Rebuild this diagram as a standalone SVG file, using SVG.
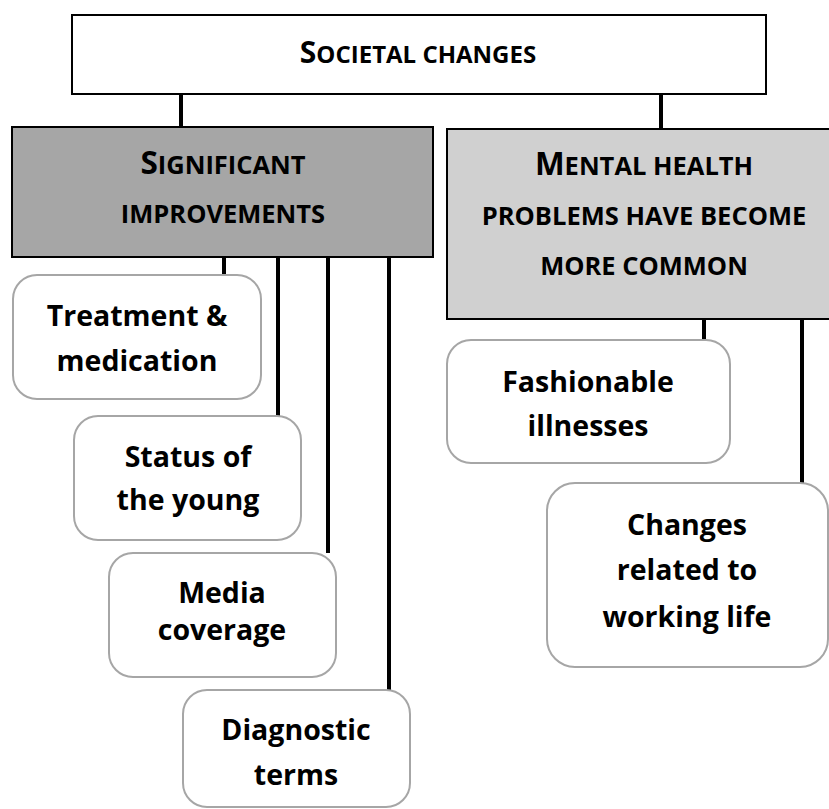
<svg xmlns="http://www.w3.org/2000/svg" width="829" height="809" viewBox="0 0 829 809">
<style>
.hdr{stroke:#000;stroke-width:2}
.leaf{fill:#fff;stroke:#a6a6a6;stroke-width:2}
.conn{stroke:#000;stroke-width:4;fill:none}
text{font-family:"Open Sans","Liberation Sans",sans-serif;font-weight:700;fill:#000;text-anchor:middle}
.lbl{font-size:28.5px}
.big{font-size:31.5px}
.sc{font-size:25.5px}
</style>
<rect width="829" height="809" fill="#fff"/>
<g id="connectors">
<line class="conn" x1="181" y1="94" x2="181" y2="128"/>
<line class="conn" x1="661" y1="94" x2="661" y2="129"/>
<line class="conn" x1="224" y1="257" x2="224" y2="275"/>
<line class="conn" x1="278" y1="257" x2="278" y2="416"/>
<line class="conn" x1="328" y1="257" x2="328" y2="553"/>
<line class="conn" x1="389" y1="257" x2="389" y2="690"/>
<line class="conn" x1="704" y1="319" x2="704" y2="340"/>
<line class="conn" x1="802" y1="319" x2="802" y2="483"/>
</g>
<g id="societal">
<rect class="hdr" x="72" y="15" width="694" height="79" fill="#fff"/>
<text x="418" y="63"><tspan style="font-size:30px">S</tspan><tspan style="font-size:24px">OCIETAL CHANGES</tspan></text>
</g>
<g id="significant">
<rect class="hdr" x="12" y="127" width="421" height="130" fill="#a6a6a6"/>
<text x="223" y="174"><tspan class="big">S</tspan><tspan class="sc">IGNIFICANT</tspan></text>
<text x="223" y="223" class="sc">IMPROVEMENTS</text>
</g>
<g id="mental">
<rect class="hdr" x="447" y="129" width="390" height="190" fill="#d0d0d0"/>
<text x="644" y="175"><tspan class="big">M</tspan><tspan class="sc">ENTAL HEALTH</tspan></text>
<text x="644" y="225" class="sc">PROBLEMS HAVE BECOME</text>
<text x="644" y="275" class="sc">MORE COMMON</text>
</g>
<g id="treatment">
<rect class="leaf" x="13" y="275" width="248" height="124" rx="24"/>
<text class="lbl" x="137" y="326">Treatment &amp;</text>
<text class="lbl" x="137" y="371">medication</text>
</g>
<g id="status">
<rect class="leaf" x="74" y="416" width="227" height="124" rx="24"/>
<text class="lbl" x="188" y="467">Status of</text>
<text class="lbl" x="188" y="510">the young</text>
</g>
<g id="media">
<rect class="leaf" x="109" y="553" width="227" height="124" rx="24"/>
<text class="lbl" x="222" y="603">Media</text>
<text class="lbl" x="222" y="640">coverage</text>
</g>
<g id="diagnostic">
<rect class="leaf" x="183" y="690" width="227" height="117" rx="24"/>
<text class="lbl" x="296" y="740">Diagnostic</text>
<text class="lbl" x="296" y="785">terms</text>
</g>
<g id="fashionable">
<rect class="leaf" x="447" y="340" width="283" height="123" rx="24"/>
<text class="lbl" x="588" y="392">Fashionable</text>
<text class="lbl" x="588" y="436">illnesses</text>
</g>
<g id="changes">
<rect class="leaf" x="547" y="483" width="281" height="184" rx="28"/>
<text class="lbl" x="687" y="535">Changes</text>
<text class="lbl" x="687" y="580">related to</text>
<text class="lbl" x="687" y="627">working life</text>
</g>
</svg>
